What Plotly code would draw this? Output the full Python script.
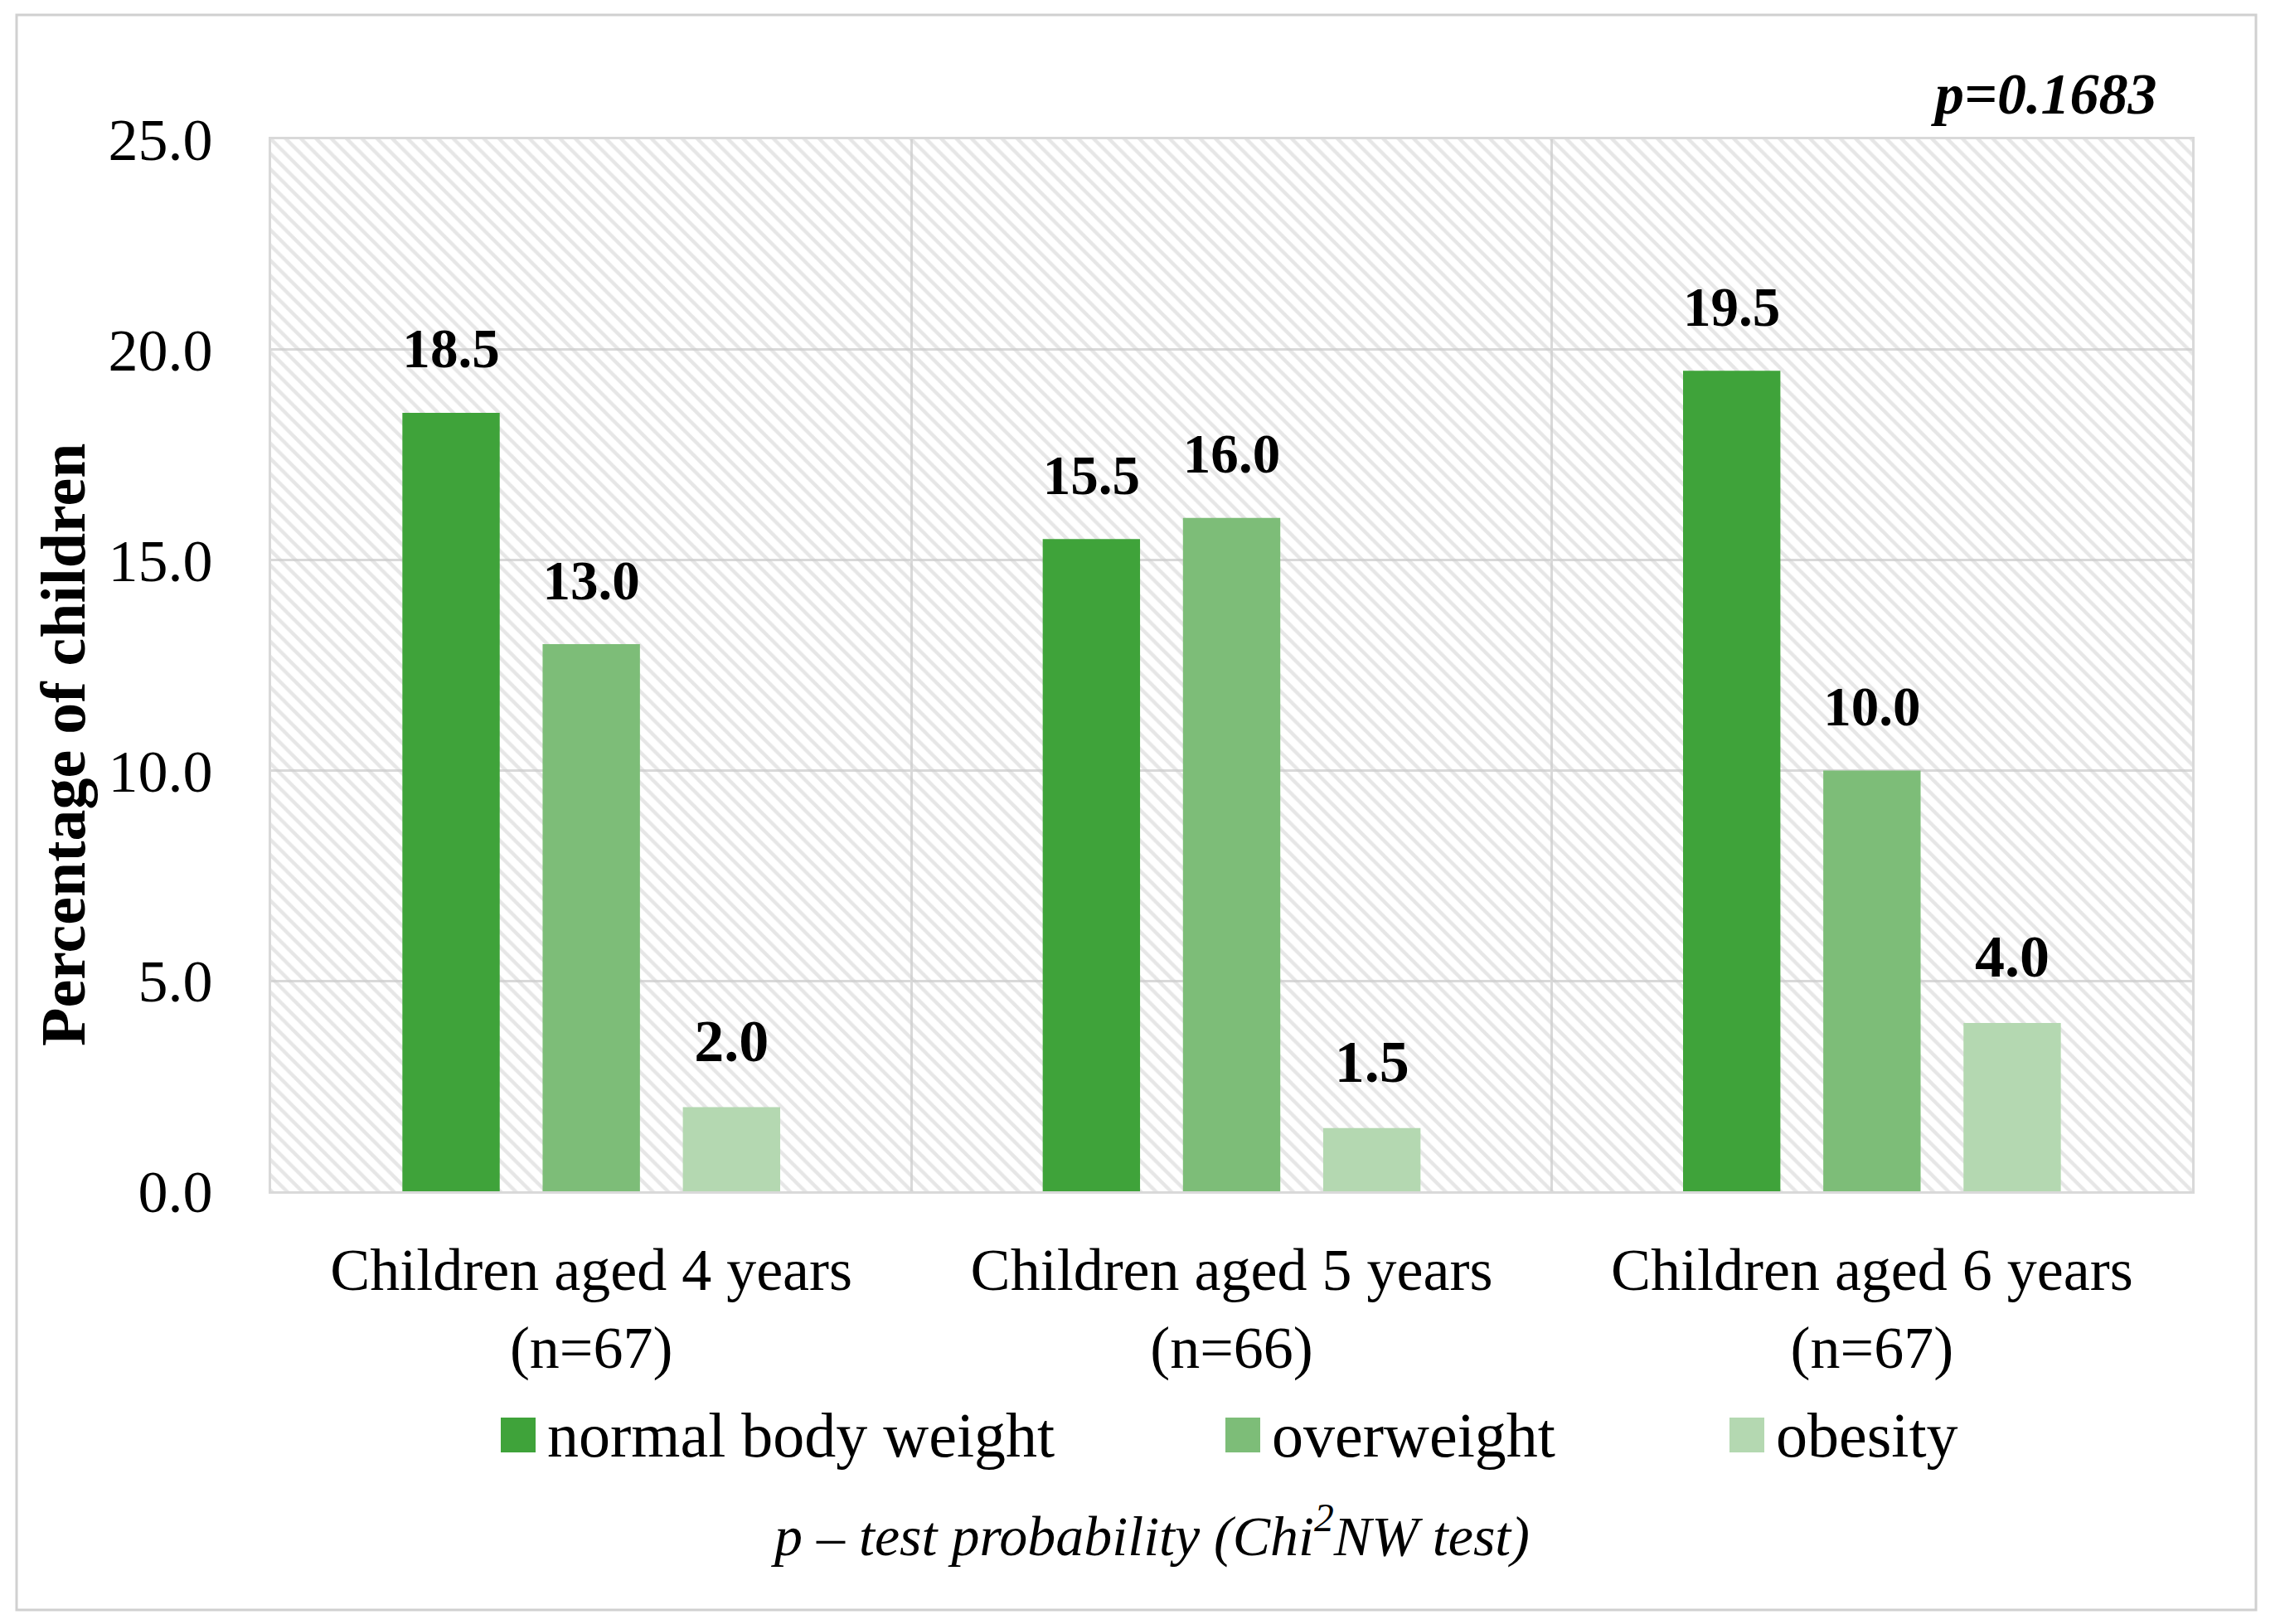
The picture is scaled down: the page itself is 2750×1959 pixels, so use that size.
import plotly.graph_objects as go

categories = ["Children aged 4 years<br>(n=67)", "Children aged 5 years<br>(n=66)", "Children aged 6 years<br>(n=67)"]
series_names = ["normal body weight", "overweight", "obesity"]
normal = [18.5, 15.5, 19.5]
overweight = [13.0, 16.0, 10.0]
obesity = [2.0, 1.5, 4.0]
y_ticks = [0, 5, 10, 15, 20, 25]
p_text = "p=0.1683"
footnote = "p – test probability (Chi<sup>2</sup>NW test)"
y_title = "Percentage of children"

colors = ["#3FA33A", "#7DBD78", "#B4D8B1"]
FONT = "Liberation Serif"
W, H = 2750, 1959
L, R, T, B = 319, 2636, 160, 1429
LABEL_GAP = 0.72  # vertical lift of value labels, in axis units


def px(x):
    return (x - L) / (R - L)


def py(y):
    return (B - y) / (B - T)


xpos = list(range(len(categories)))
fig = go.Figure()

# hatched plot background (base subplot, drawn beneath the bars)
fig.add_trace(go.Scatter(
    x=[-0.5, len(categories) - 0.5, len(categories) - 0.5, -0.5, -0.5],
    y=[0, 0, max(y_ticks), max(y_ticks), 0],
    xaxis="x", yaxis="y",
    fill="toself", mode="none", hoverinfo="skip", showlegend=False,
    fillcolor="rgba(0,0,0,0)",
    fillpattern=dict(shape="\\", fgcolor="#cdcdcd", bgcolor="rgba(0,0,0,0)", size=13, solidity=0.33),
))

for i, (name, vals, c) in enumerate(zip(series_names, [normal, overweight, obesity], colors)):
    fig.add_trace(go.Bar(
        x=xpos, y=vals, name=name, xaxis="x2", yaxis="y",
        marker=dict(color=c, line=dict(width=0)), offsetgroup=str(i),
        showlegend=False, hovertemplate=name + ": %{y:.1f}<extra></extra>",
    ))
    # transparent carrier for the value label, sitting just above the bar
    fig.add_trace(go.Bar(
        x=xpos, y=[LABEL_GAP] * len(vals), base=vals, xaxis="x2", yaxis="y",
        marker=dict(color="rgba(0,0,0,0)", line=dict(width=0)), offsetgroup=str(i),
        text=[f"{v:.1f}" for v in vals], textposition="outside", cliponaxis=False,
        textfont=dict(family=FONT, size=72, color="black", weight="bold"),
        showlegend=False, hoverinfo="skip",
    ))

fig.update_layout(
    width=W, height=H,
    margin=dict(l=L, r=W - R, t=T, b=H - B),
    paper_bgcolor="white", plot_bgcolor="white",
    barmode="group", bargap=0.343, bargroupgap=0.306,
    font=dict(family=FONT, size=72, color="black"),
    xaxis2=dict(overlaying="x", range=[-0.5, len(categories) - 0.5], visible=False),
)
fig.update_layout(xaxis=dict(
    range=[-0.5, len(categories) - 0.5],
    tickmode="array", tickvals=xpos, ticktext=categories,
    showgrid=False, zeroline=False,
    showline=True, linecolor="#d9d9d9", linewidth=3, mirror=True,
    ticks="outside", ticklen=30, tickcolor="rgba(0,0,0,0)",
    tickfont=dict(family=FONT, size=72, color="black"),
    minor=dict(tickmode="array", tickvals=[0.5, 1.5], showgrid=True, gridcolor="#d9d9d9", gridwidth=3, ticks=""),
))
fig.update_yaxes(
    range=[0, max(y_ticks)], tickmode="array", tickvals=y_ticks, tickformat=".1f",
    showgrid=True, gridcolor="#d9d9d9", gridwidth=3, zeroline=False,
    showline=True, linecolor="#d9d9d9", linewidth=3, mirror=True,
    ticks="outside", ticklen=53, tickcolor="rgba(0,0,0,0)",
    tickfont=dict(family=FONT, size=72, color="black"),
)

# y-axis title
fig.add_annotation(x=px(68), y=py(891), xref="paper", yref="paper", text="<b>" + y_title + "</b>",
                   textangle=-90, showarrow=False, font=dict(family=FONT, size=76, color="black"),
                   xanchor="center", yanchor="middle")
# p value
fig.add_annotation(x=px(2595), y=py(106), xref="paper", yref="paper", text="<b><i>" + p_text + "</i></b>",
                   showarrow=False, font=dict(family=FONT, size=70, color="black"),
                   xanchor="right", yanchor="middle")
# footnote
fig.add_annotation(x=px(1379), y=py(1840), xref="paper", yref="paper", text="<i>" + footnote + "</i>",
                   showarrow=False, font=dict(family=FONT, size=68, color="black"),
                   xanchor="center", yanchor="middle")

# legend (drawn manually for large swatches)
legend_x = [596, 1470, 2078]
sw = 42
ly = 1723
for name, c, lx in zip(series_names, colors, legend_x):
    fig.add_shape(type="rect", xref="paper", yref="paper",
                  x0=px(lx), x1=px(lx + sw), y0=py(ly + sw / 2), y1=py(ly - sw / 2),
                  fillcolor=c, line=dict(width=0))
    fig.add_annotation(x=px(lx + sw + 12), y=py(ly), xref="paper", yref="paper", text=name,
                       showarrow=False, font=dict(family=FONT, size=76, color="black"),
                       xanchor="left", yanchor="middle")

# outer border
fig.add_shape(type="rect", xref="paper", yref="paper",
              x0=px(12), x1=px(2713), y0=py(1934), y1=py(10),
              line=dict(color="#d0d0d0", width=3), fillcolor="rgba(0,0,0,0)", layer="below")

fig.write_html("out.html")
